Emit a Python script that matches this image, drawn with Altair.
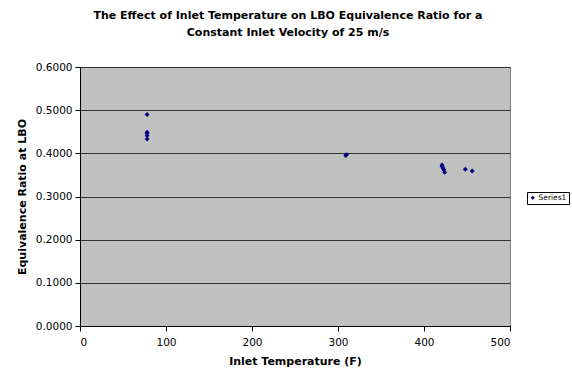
import altair as alt
import pandas as pd

temps = [78, 78, 78, 78, 78, 309, 310, 421, 421, 422, 423, 424, 448, 456]
ratios = [0.490, 0.449, 0.446, 0.441, 0.433, 0.395, 0.397, 0.373, 0.370, 0.366, 0.362, 0.356, 0.363, 0.359]
series = ["Series1"] * len(temps)

df = pd.DataFrame({"temp": temps, "ratio": ratios, "series": series})

FONT = "DejaVu Sans"

base = alt.Chart(df)

points = base.mark_point(shape="diamond", filled=True, size=24, opacity=1).encode(
    x=alt.X("temp:Q", title="Inlet Temperature (F)",
            scale=alt.Scale(domain=[0, 500], nice=False),
            axis=alt.Axis(values=[0, 100, 200, 300, 400, 500], grid=False,
                          domainColor="black", tickColor="black", tickSize=5,
                          labelFont=FONT, labelFontSize=10.5, labelColor="black", labelPadding=6,
                          titleFont=FONT, titleFontSize=11, titleFontWeight="bold",
                          titleColor="black", titlePadding=8)),
    y=alt.Y("ratio:Q", title="Equivalence Ratio at LBO",
            scale=alt.Scale(domain=[0, 0.6], nice=False),
            axis=alt.Axis(values=[0, 0.1, 0.2, 0.3, 0.4, 0.5, 0.6], format=".4f",
                          grid=True, gridColor="#333333", gridWidth=1,
                          domainColor="black", tickColor="black", tickSize=5,
                          labelFont=FONT, labelFontSize=10.5, labelColor="black", labelPadding=3,
                          titleFont=FONT, titleFontSize=11, titleFontWeight="bold",
                          titleColor="black", titlePadding=8)),
    color=alt.Color("series:N", scale=alt.Scale(range=["#000080"]),
                    legend=alt.Legend(title=None, orient="none", legendX=447, legendY=125,
                                      strokeColor="black", padding=2, symbolType="diamond",
                                      symbolSize=18, labelFont=FONT, labelFontSize=7.5,
                                      labelColor="black", rowPadding=0, symbolOffset=0,
                                      labelOffset=2)),
)

chart = points.properties(
    width=430,
    height=259,
    title=alt.TitleParams(
        text=["The Effect of Inlet Temperature on LBO Equivalence Ratio for a",
              "Constant Inlet Velocity of 25 m/s"],
        font=FONT, fontSize=11, fontWeight="bold", color="black",
        anchor="middle", offset=24, dx=-7, lineHeight=17,
    ),
    padding={"left": 80, "top": 67, "right": 62, "bottom": 44},
    autosize=alt.AutoSizeParams(type="none"),
    background="white",
).configure_view(fill="#C0C0C0", stroke="#808080", strokeWidth=1)

chart.save("out.html", embed_options={"renderer": "svg", "actions": False})
